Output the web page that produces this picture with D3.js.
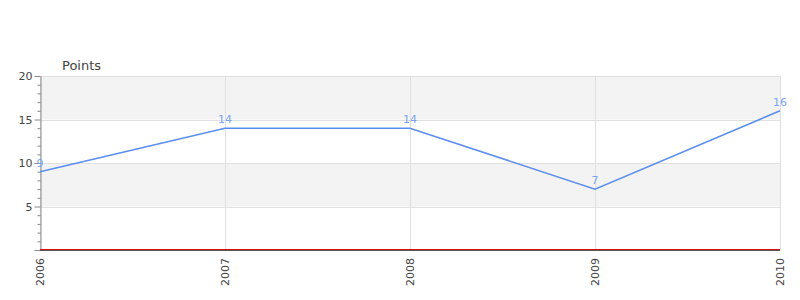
<!DOCTYPE html>
<html>
<head>
<meta charset="utf-8">
<script src="https://cdn.jsdelivr.net/npm/d3@7"></script>
<style>
body { margin: 0; background: #fff; }
text { font-family: "DejaVu Sans", sans-serif; }
</style>
</head>
<body>
<script>
var width = 800, height = 300;

var years = ["2006", "2007", "2008", "2009", "2010"];
var points = [9, 14, 14, 7, 16];
var yTicks = [5, 10, 15, 20];
var bands = [[15, 20], [5, 10]];

var svg = d3.select("body")
.append("svg")
.attr("width", width)
.attr("height", height);

var x = d3.scalePoint()
.domain(years)
.range([40, 780]);

var y = d3.scaleLinear()
.domain([0, 20])
.range([250, 76]);

//shaded bands
svg.selectAll(".band")
.data(bands)
.enter()
.append("rect")
.attr("x", 40)
.attr("width", 740)
.attr("y", function(b) { return y(b[1]) })
.attr("height", function(b) { return y(b[0]) - y(b[1]) })
.attr("fill", "#f3f3f3");

//grid
svg.selectAll(".hgrid")
.data(yTicks)
.enter()
.append("line")
.attr("x1", 40).attr("x2", 780)
.attr("y1", function(d) { return Math.round(y(d)) + 0.5 })
.attr("y2", function(d) { return Math.round(y(d)) + 0.5 })
.attr("stroke", "#e0e0e0");

svg.selectAll(".vgrid")
.data(years)
.enter()
.append("line")
.attr("x1", function(d) { return Math.round(x(d)) + 0.5 })
.attr("x2", function(d) { return Math.round(x(d)) + 0.5 })
.attr("y1", 76).attr("y2", 250)
.attr("stroke", "#e0e0e0");

//y axis with minor ticks
var minor = d3.range(0, 21).filter(function(v) { return v % 5 != 0 });
svg.append("g")
.attr("transform", "translate(40.5,0)")
.call(d3.axisLeft(y).tickValues(minor).tickSize(3).tickFormat(""))
.call(function(g) { g.select(".domain").remove() })
.selectAll("line").attr("stroke", "#888");

var yAxis = svg.append("g")
.attr("transform", "translate(40.5,0)")
.call(d3.axisLeft(y).tickValues([0].concat(yTicks)).tickSize(6).tickSizeOuter(0)
  .tickFormat(function(d) { return d == 0 ? "" : d }));
yAxis.select(".domain").attr("stroke", "#888");
yAxis.selectAll("line").attr("stroke", "#888");
yAxis.selectAll("text").attr("fill", "#444").attr("font-size", 11)
.attr("font-family", "DejaVu Sans").attr("x", -8);

//baseline
svg.append("line")
.attr("x1", 40).attr("x2", 780)
.attr("y1", 249.5).attr("y2", 249.5)
.attr("stroke", "#e01010");
svg.append("line")
.attr("x1", 40).attr("x2", 780)
.attr("y1", 250.5).attr("y2", 250.5)
.attr("stroke", "#555");

//x labels
svg.selectAll(".xlab")
.data(years)
.enter()
.append("text")
.attr("transform", function(d) { return "translate(" + (x(d) + 4) + ",258) rotate(-90)" })
.attr("text-anchor", "end")
.attr("font-size", 11)
.attr("fill", "#444")
.text(function(d) { return d });

svg.append("text")
.attr("x", 62).attr("y", 70)
.attr("font-size", 13)
.attr("fill", "#444")
.text("Points");

//line
var line = d3.line()
.x(function(d, i) { return x(years[i]) })
.y(function(d) { return y(d) });

svg.append("path")
.datum(points)
.attr("d", line)
.attr("fill", "none")
.attr("stroke", "#5b8def")
.attr("stroke-width", 1.5);

svg.selectAll(".vlab")
.data(points)
.enter()
.append("text")
.attr("x", function(d, i) { return x(years[i]) })
.attr("y", function(d) { return y(d) - 5 })
.attr("text-anchor", "middle")
.attr("font-size", 11)
.attr("fill", "#7aa4f2")
.text(function(d) { return d });
</script>
</body>
</html>
